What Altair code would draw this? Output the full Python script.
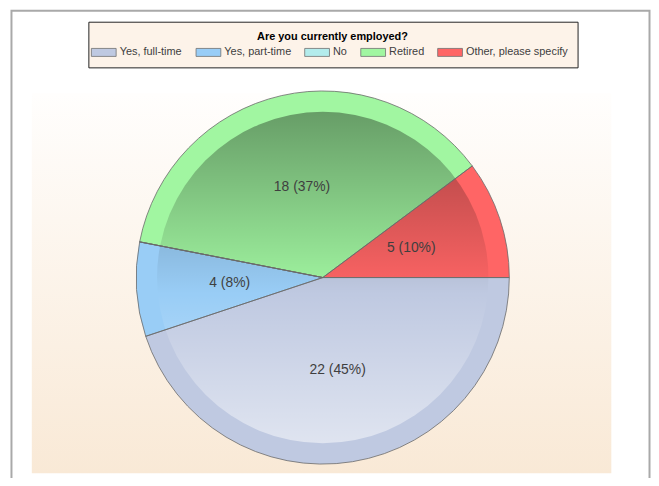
import math
import altair as alt
import pandas as pd

# ---- data ----
categories = ["Yes, full-time", "Yes, part-time", "No", "Retired", "Other, please specify"]
counts = [22, 4, 0, 18, 5]
colors = ["#bfc9e1", "#99cdf6", "#b3ecec", "#a1f6a1", "#ff6565"]

df = pd.DataFrame({"category": categories, "count": counts, "idx": list(range(len(categories)))})

# ---- layout (relative to the plot panel) ----
CX, CY = 293.2, 185.8
R_OUT, R_IN = 188, 167
FONT = "Liberation Sans"

theta_scale = alt.Scale(range=[math.pi / 2, math.pi / 2 + 2 * math.pi])
theta = alt.Theta("count:Q", stack=True, scale=theta_scale)
order = alt.Order("idx:Q")

base = alt.Chart(df)
one = alt.Data(values=[{"k": 0}])

legend = alt.Legend(
    title="Are you currently employed?",
    orient="none", legendX=57, legendY=-72,
    direction="horizontal",
    titleAnchor="middle", titleAlign="center",
    titleFont=FONT, titleFontSize=11, titleFontWeight="bold", titleColor="#000000",
    titlePadding=4,
    labelFont=FONT, labelFontSize=11, labelColor="#404040", labelOffset=9.5,
    columnPadding=11.5,
    symbolType="M-2.08,-0.67H2.08V0.67H-2.08Z", symbolSize=144,
    symbolStrokeColor="#707070", symbolStrokeWidth=0.8, symbolOpacity=1,
    fillColor="#fdf3e9", strokeColor="#222222", padding=9,
)

panel = alt.Chart(one).mark_rect(
    fill=alt.Gradient(
        gradient="linear", x1=0, y1=0, x2=0, y2=1,
        stops=[
            alt.GradientStop(color="#fffefd", offset=0),
            alt.GradientStop(color="#f9e9d6", offset=1),
        ],
    )
).encode(x=alt.value(0), x2=alt.value("width"), y=alt.value(0), y2=alt.value("height"))

slices = base.mark_arc(radius=R_OUT).encode(
    theta=theta,
    color=alt.Color("category:N", scale=alt.Scale(domain=categories, range=colors), legend=legend),
    order=order,
    x=alt.value(CX), y=alt.value(CY),
)

shade = alt.Chart(one).mark_arc(
    radius=R_IN, theta=0, theta2=2 * math.pi,
    fill=alt.Gradient(
        gradient="linear", x1=0, y1=0, x2=0, y2=1,
        stops=[
            alt.GradientStop(color="rgba(0,0,0,0.36)", offset=0),
            alt.GradientStop(color="rgba(0,0,0,0)", offset=0.55),
            alt.GradientStop(color="rgba(255,255,255,0)", offset=0.55),
            alt.GradientStop(color="rgba(255,255,255,0.5)", offset=1),
        ],
    ),
).encode(x=alt.value(CX), y=alt.value(CY))

outlines = base.mark_arc(radius=R_OUT, fillOpacity=0, stroke="#6a6a6a", strokeWidth=0.8).encode(
    theta=theta, order=order, x=alt.value(CX), y=alt.value(CY)
)

labels = base.transform_filter("datum.count > 0").transform_joinaggregate(
    total="sum(count)"
).transform_calculate(
    label="datum.count + ' (' + round(datum.count / datum.total * 100) + '%)'"
).mark_text(radius=94, font=FONT, fontSize=14, fill="#3f3f3f").encode(
    theta=theta, order=order, text="label:N", x=alt.value(CX), y=alt.value(CY)
)

frame = alt.Chart(one).mark_rect(
    filled=False, stroke="#a9a9a9", strokeWidth=2
).encode(x=alt.value(-20.5), x2=alt.value(622.5), y=alt.value(-83), y2=alt.value(420))

chart = alt.layer(frame, panel, slices, shade, outlines, labels).properties(
    width=584, height=383,
    autosize=alt.AutoSizeParams(type="none"),
    padding={"left": 24, "top": 84, "right": 40, "bottom": 3},
    background="#ffffff",
).configure_view(strokeWidth=0)

chart.save("out.html", embed_options={"renderer": "svg", "actions": False})
